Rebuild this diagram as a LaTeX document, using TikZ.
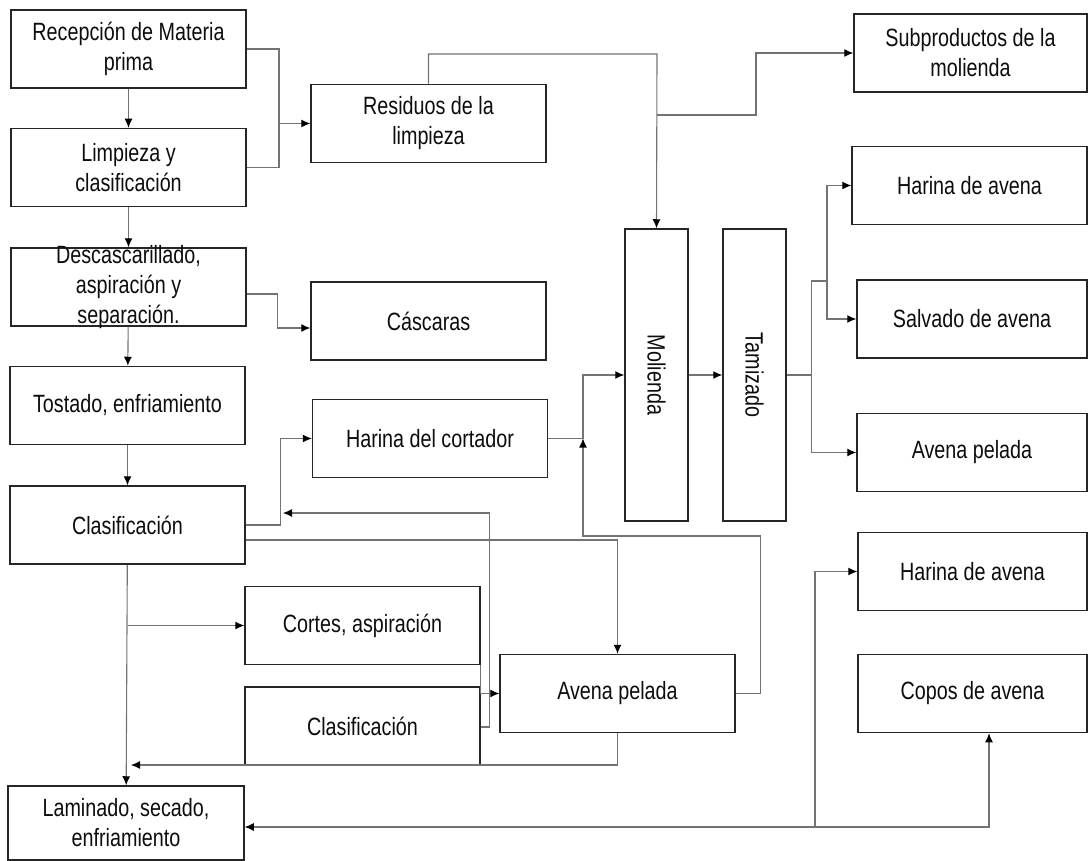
\documentclass[tikz,border=0pt]{standalone}
\usepackage{fontspec}
\setmainfont[FakeStretch=0.79]{Liberation Sans}
\usetikzlibrary{arrows.meta}

\begin{document}
\begin{tikzpicture}[x=1pt,y=-1pt,
    box/.style={draw=black!85,line width=1.5pt,minimum width=235pt,minimum height=78pt,align=center,inner sep=2pt,text=black!95},
    tall/.style={box,minimum width=63pt,minimum height=292pt},
    flow/.style={draw=black!55,line width=1.1pt},
    arr/.style={flow,-{Latex[length=9pt,width=8pt,color=black]}},
    font=\fontsize{25}{30}\selectfont]
    \useasboundingbox (0,0) rectangle (1089,861);
    \begin{scope}
      \node[box] (rec)   at (128.5,49)    {Recepción de Materia\\prima};
      \node[box] (limp)  at (128.5,167.5) {Limpieza y\\clasificación};
      \node[box] (desc)  at (128.5,287)   {};
      \node[align=center,text=black!95] at (desc) {Descascarillado,\\aspiración y\\separación.};
      \node[box] (tost)  at (127.5,405.5) {Tostado, enfriamiento};
      \node[box] (clas)  at (127.5,525)   {Clasificación};
      \node[box,minimum width=236pt,minimum height=74pt] (lam) at (126,823) {Laminado, secado,\\enfriamiento};
      \node[box] (resid) at (428.5,123.5) {Residuos de la\\limpieza};
      \node[box] (casc)  at (428.5,321)   {Cáscaras};
      \node[box] (harc)  at (430,438.5)   {Harina del cortador};
      \node[box] (cort)  at (362.5,625.5) {Cortes, aspiración};
      \node[box] (clas2) at (362.5,726)   {Clasificación};
      \node[box] (avp)   at (617.5,693.5) {Avena pelada};
      \node[tall] (mol)  at (656.5,375)   {};
      \node[tall] (tam)  at (754.5,375)   {};
      \node[rotate=-90,text=black!95] at (mol) {Molienda};
      \node[rotate=-90,text=black!95] at (tam) {Tamizado};
      \node[box,minimum width=233pt] (subp) at (970.5,53) {Subproductos de la\\molienda};
      \node[box] (har1)  at (969.5,185.5) {Harina de avena};
      \node[box,minimum width=230pt] (salv) at (972,319)   {Salvado de avena};
      \node[box,minimum width=230pt] (avr)  at (972,452.5) {Avena pelada};
      \node[box,minimum width=229pt] (har2) at (972.5,571.5) {Harina de avena};
      \node[box,minimum width=229pt] (copos) at (972.5,693.5) {Copos de avena};
    \end{scope}
    \coordinate (jr) at (279,123.5);
    \coordinate (jt) at (657,54);
    \coordinate (js) at (657,115);
    \coordinate (jsub) at (756,115);
    \coordinate (jh) at (583,438.5);
    \coordinate (jc) at (283,513);
    \coordinate (jl) at (131,765);
    \coordinate (jb) at (815,827);
    \draw[arr] (rec) -- (limp);
    \draw[arr] (limp) -- (desc);
    \draw[arr] (desc) -- (tost);
    \draw[arr] (tost) -- (clas);
    \draw[arr] (clas) -- (lam);
    \draw[flow] (rec.east) -| (jr);
    \draw[flow] (limp.east) -| (jr);
    \draw[arr] (jr) -- (resid.west);
    \draw[arr] (resid.north) |- (jt) -- (mol.north);
    \draw[arr] (js) -- (jsub) |- (subp.west);
    \draw[arr] ([yshift=-7pt]desc.east) -- ++(31,0) |- ([yshift=-7pt]casc.west);
    \draw[arr] (clas.east) -- ++(35,0) |- (harc.west);
    \draw[arr] (harc.east) -- (jh) |- (mol.west);
    \draw[arr] (avp.east) -- ++(25,0) |- (583,536) -- (jh);
    \draw[arr] (mol) -- (tam);
    \draw[flow] (tam.east) -- ++(25,0) coordinate (jt1) |- (827,281) coordinate (jt2);
    \draw[arr] (jt2) |- (har1.west);
    \draw[arr] (jt2) |- (salv.west);
    \draw[arr] (jt1) |- (avr.west);
    \draw[arr] (clas.south |- cort.west) -- (cort.west);
    \draw[arr] ([yshift=-15pt]clas.east) -| (avp.north);
    \draw[arr] ([yshift=-1pt]clas2.east) -- ++(9,0) |- (jc);
    \draw[arr] (cort.south east) |- (avp.west);
    \draw[arr] (avp.south) |- (jl);
    \draw[arr] (jb) -- (lam.east |- jb);
    \draw[arr] (jb) |- (har2.west);
    \draw[arr] (jb) -| ([xshift=16.5pt]copos.south);
\end{tikzpicture}
\end{document}
